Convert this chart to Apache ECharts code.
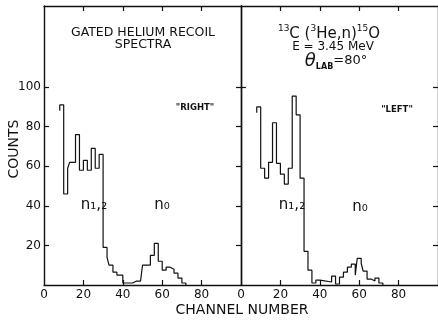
<!DOCTYPE html>
<html lang="en">
<head>
<meta charset="UTF-8">
<title>gated helium recoil spectra</title>
<script src="https://cdn.jsdelivr.net/npm/echarts@6/dist/echarts.min.js"></script>
<style>
    body{
        margin: 0;
        padding: 0;
        background-color: #fff;
    }
    #chart{
        width: 438px;
        height: 320px;
    }
</style>
</head>
<body>
<div id="chart"></div>
<script>
// step histograms: edges (channel) and the count in each step
var leftEdges  = [8, 10, 12, 13, 16, 18, 20, 22, 24, 26, 28, 30, 32, 33, 35, 37, 40, 42, 43, 45, 47, 48, 49, 50, 54, 56, 58, 60, 62, 64, 66, 68, 70, 72];
var leftCounts = [91, 46, 59, 62, 76, 58, 63, 58, 69, 59, 66, 19, 14, 10, 6.5, 5, 1, 2, 1, 2, 1, 2, 1, 10, 15, 21, 12, 7.5, 9, 8, 6, 3.5, 1];
var leftLead = 88;

var rightEdges  = [8, 10, 12, 14, 16, 18, 20, 22, 24, 26, 28, 30, 32, 34, 36, 38, 40, 46, 48, 50, 52, 54, 56, 58, 59, 61, 62, 64, 66, 68, 70, 72];
var rightCounts = [90, 59, 54, 62, 82, 61.5, 56, 51, 59, 95.5, 86, 54, 17, 7.5, 1, 2.5, 1.5, 4.5, 0.5, 4, 6.5, 9, 10.5, 5, 13.5, 11, 7, 3, 2, 3.5, 1];
var rightLead = 87;

var xTicks = [0, 20, 40, 60, 80];
var xInnerTicks = [20, 40, 60, 80];
var yTicks = [20, 40, 60, 80, 100];

var chart = echarts.init(document.getElementById('chart'), null, {renderer: 'canvas'});

function steps(edges, counts, lead) {
    var pts = [[edges[0], lead]];
    for (var i = 0; i < counts.length; i++) {
        pts.push([edges[i], counts[i]]);
    }
    pts.push([edges[edges.length - 1], 0]);
    return pts;
}

var ink = '#111';
var font = 'DejaVu Sans';
var frame = {show: true, onZero: false, lineStyle: {color: ink, width: 1.4}};

function xAx(grid, pos, labels) {
    return {
        type: 'value', gridIndex: grid, position: pos, min: 0, max: 100,
        axisLine: frame,
        axisTick: {show: true, inside: true, length: 5, customValues: xInnerTicks, lineStyle: {color: ink, width: 1.2}},
        axisLabel: labels ? {show: true, customValues: xTicks, color: ink, fontSize: 12, fontFamily: font, margin: 4} : {show: false},
        splitLine: {show: false}
    };
}

function yAx(grid, pos, ticks, labels) {
    return {
        type: 'value', gridIndex: grid, position: pos, min: 0, max: 141,
        axisLine: frame,
        axisTick: {show: true, inside: true, length: 5, customValues: ticks, lineStyle: {color: ink, width: 1.2}},
        axisLabel: labels ? {show: true, customValues: yTicks, color: ink, fontSize: 12, fontFamily: font, margin: 3} : {show: false},
        splitLine: {show: false}
    };
}

function label(x, y, text, size, weight) {
    return {type: 'text', x: x, y: y, style: {text: text, fill: ink, font: (weight || 'normal') + ' ' + size + 'px "DejaVu Sans"', align: 'center', verticalAlign: 'middle'}};
}

var option = {
    backgroundColor: '#fff',
    animation: false,
    grid: [
        {left: 44, top: 6, width: 197, bottom: 35},
        {left: 241, top: 6, width: 197, bottom: 35}
    ],
    xAxis: [
        xAx(0, 'bottom', true), xAx(0, 'top', false),
        xAx(1, 'bottom', true), xAx(1, 'top', false)
    ],
    yAxis: [
        yAx(0, 'left', yTicks, true), yAx(0, 'right', yTicks, false),
        yAx(1, 'left', [100], false), yAx(1, 'right', yTicks, false)
    ],
    series: [
        {
            type: 'line', xAxisIndex: 0, yAxisIndex: 0, step: 'end', symbol: 'none',
            lineStyle: {color: ink, width: 1.2},
            data: steps(leftEdges, leftCounts, leftLead)
        },
        {
            type: 'line', xAxisIndex: 2, yAxisIndex: 2, step: 'end', symbol: 'none',
            lineStyle: {color: ink, width: 1.2},
            data: steps(rightEdges, rightCounts, rightLead)
        }
    ],
    graphic: [
        label(143, 33, 'GATED HELIUM RECOIL', 12.5),
        label(143, 45, 'SPECTRA', 12.5),
        {type: 'text', x: 329, y: 33, style: {
            text: '{p|13}{b|C (}{p|3}{b|He,n)}{p|15}{b|O}', align: 'center', verticalAlign: 'middle',
            rich: {
                b: {fill: ink, fontSize: 15, fontFamily: font, lineHeight: 18, verticalAlign: 'bottom'},
                p: {fill: ink, fontSize: 9, fontFamily: font, lineHeight: 18, verticalAlign: 'top'}
            }
        }},
        label(333, 47, 'E = 3.45 MeV', 12),
        {type: 'text', x: 336, y: 61, style: {
            text: '{t|θ}{s|LAB}{n|=80°}', align: 'center', verticalAlign: 'middle',
            rich: {
                t: {fill: ink, fontSize: 18, fontStyle: 'italic', fontFamily: font, lineHeight: 20, verticalAlign: 'middle'},
                s: {fill: ink, fontSize: 8, fontWeight: 'bold', fontFamily: font, lineHeight: 20, verticalAlign: 'bottom', padding: [8, 0, 0, 0]},
                n: {fill: ink, fontSize: 13, fontFamily: font, lineHeight: 20, verticalAlign: 'middle'}
            }
        }},
        label(195, 108, '"RIGHT"', 8.5, 'bold'),
        label(397, 110, '"LEFT"', 8.5, 'bold'),
        label(94, 205, 'n₁,₂', 15),
        label(292, 205, 'n₁,₂', 15),
        label(162, 205, 'n₀', 15),
        label(360, 207, 'n₀', 15),
        {type: 'text', x: 14, y: 149, rotation: Math.PI / 2, style: {text: 'COUNTS', fill: ink, font: '14px "DejaVu Sans"', align: 'center', verticalAlign: 'middle'}},
        label(242, 310, 'CHANNEL NUMBER', 14)
    ]
};

chart.setOption(option);
</script>
</body>
</html>
